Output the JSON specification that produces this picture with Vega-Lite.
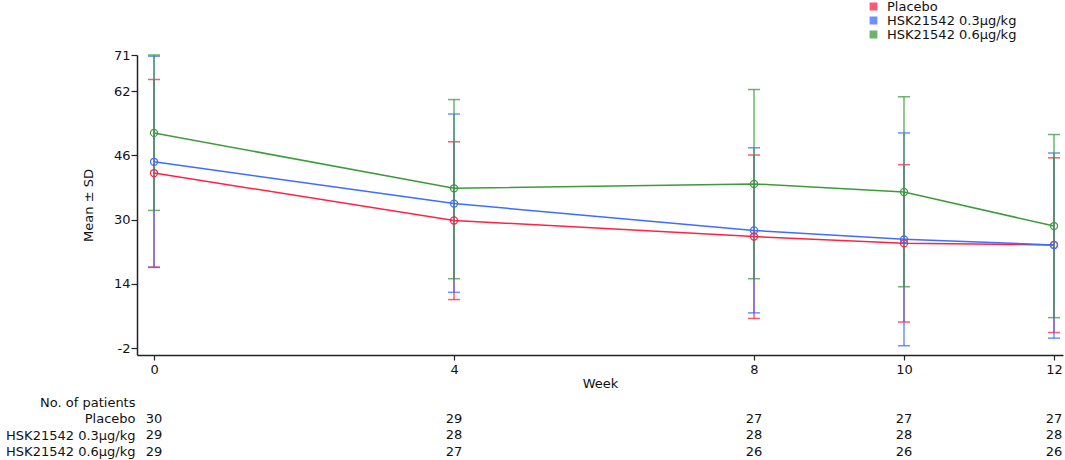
{
  "$schema": "https://vega.github.io/schema/vega-lite/v6.json",
  "padding": {"left": 5, "right": 2, "top": 0, "bottom": 0},
  "config": {
    "view": {"stroke": null},
    "font": "DejaVu Sans",
    "concat": {"spacing": 4},
    "axis": {"labelFont": "DejaVu Sans", "titleFont": "DejaVu Sans", "labelColor": "#111", "titleColor": "#111", "titleFontWeight": "normal"}
  },
  "datasets": {
    "stats": [
      {"week": 0, "group": "Placebo", "mean": 41.6, "lo": 18.2, "hi": 64.9},
      {"week": 4, "group": "Placebo", "mean": 29.8, "lo": 10.1, "hi": 49.4},
      {"week": 8, "group": "Placebo", "mean": 25.8, "lo": 5.4, "hi": 46.1},
      {"week": 10, "group": "Placebo", "mean": 24.1, "lo": 4.5, "hi": 43.7},
      {"week": 12, "group": "Placebo", "mean": 23.7, "lo": 1.9, "hi": 45.4},
      {"week": 0, "group": "HSK21542 0.3µg/kg", "mean": 44.4, "lo": 18.1, "hi": 70.7},
      {"week": 4, "group": "HSK21542 0.3µg/kg", "mean": 34.0, "lo": 11.9, "hi": 56.3},
      {"week": 8, "group": "HSK21542 0.3µg/kg", "mean": 27.3, "lo": 6.8, "hi": 47.9},
      {"week": 10, "group": "HSK21542 0.3µg/kg", "mean": 25.1, "lo": -1.4, "hi": 51.6},
      {"week": 12, "group": "HSK21542 0.3µg/kg", "mean": 23.7, "lo": 0.5, "hi": 46.6},
      {"week": 0, "group": "HSK21542 0.6µg/kg", "mean": 51.6, "lo": 32.3, "hi": 71.0},
      {"week": 4, "group": "HSK21542 0.6µg/kg", "mean": 37.8, "lo": 15.3, "hi": 59.9},
      {"week": 8, "group": "HSK21542 0.6µg/kg", "mean": 38.9, "lo": 15.3, "hi": 62.4},
      {"week": 10, "group": "HSK21542 0.6µg/kg", "mean": 36.9, "lo": 13.3, "hi": 60.6},
      {"week": 12, "group": "HSK21542 0.6µg/kg", "mean": 28.4, "lo": 5.6, "hi": 51.2}
    ],
    "counts": [
      {"week": 0, "group": "Placebo", "n": 30},
      {"week": 4, "group": "Placebo", "n": 29},
      {"week": 8, "group": "Placebo", "n": 27},
      {"week": 10, "group": "Placebo", "n": 27},
      {"week": 12, "group": "Placebo", "n": 27},
      {"week": 0, "group": "HSK21542 0.3µg/kg", "n": 29},
      {"week": 4, "group": "HSK21542 0.3µg/kg", "n": 28},
      {"week": 8, "group": "HSK21542 0.3µg/kg", "n": 28},
      {"week": 10, "group": "HSK21542 0.3µg/kg", "n": 28},
      {"week": 12, "group": "HSK21542 0.3µg/kg", "n": 28},
      {"week": 0, "group": "HSK21542 0.6µg/kg", "n": 29},
      {"week": 4, "group": "HSK21542 0.6µg/kg", "n": 27},
      {"week": 8, "group": "HSK21542 0.6µg/kg", "n": 26},
      {"week": 10, "group": "HSK21542 0.6µg/kg", "n": 26},
      {"week": 12, "group": "HSK21542 0.6µg/kg", "n": 26}
    ]
  },
  "vconcat": [
    {
      "width": 926,
      "height": 300,
      "data": {"name": "stats"},
      "encoding": {
        "x": {
          "field": "week",
          "type": "quantitative",
          "scale": {"domain": [-0.227, 12.12], "nice": false, "zero": false},
          "axis": {
            "values": [0, 4, 8, 10, 12],
            "title": "Week",
            "grid": false,
            "labelFontSize": 13,
            "titleFontSize": 13,
            "labelPadding": 3,
            "titlePadding": 1,
            "tickSize": 5,
            "domainColor": "#222",
            "domainWidth": 1.5,
            "tickColor": "#222",
            "tickWidth": 1.2
          }
        },
        "color": {
          "field": "group",
          "type": "nominal",
          "scale": {
            "domain": ["Placebo", "HSK21542 0.3µg/kg", "HSK21542 0.6µg/kg"],
            "range": ["#ff2244", "#3d6dff", "#3c9c3c"]
          },
          "legend": {
            "orient": "none",
            "legendX": 730,
            "legendY": -55,
            "title": null,
            "symbolType": "square",
            "symbolSize": 40,
            "labelFontSize": 13,
            "labelFont": "DejaVu Sans",
            "labelColor": "#111",
            "labelOffset": 7,
            "rowPadding": 0
          }
        }
      },
      "layer": [
        {
          "mark": {"type": "errorbar", "ticks": {"size": 12}, "thickness": 1.5, "opacity": 0.75},
          "encoding": {
            "y": {
              "field": "lo",
              "type": "quantitative",
              "title": "Mean ± SD",
              "scale": {"domain": [-3.7, 71], "nice": false, "zero": false}
            },
            "y2": {"field": "hi"}
          }
        },
        {
          "mark": {"type": "line", "strokeWidth": 1.5},
          "encoding": {
            "y": {
              "field": "mean",
              "type": "quantitative",
              "title": "Mean ± SD",
              "scale": {"domain": [-3.7, 71], "nice": false, "zero": false},
              "axis": {
                "values": [-2, 14, 30, 46, 62, 71],
                "labelExpr": "replace(datum.label, '−', '-')",
                "grid": false,
                "labelFontSize": 13,
                "titleFontSize": 13,
                "labelPadding": 1,
                "titlePadding": 18,
                "tickSize": 6,
                "domainColor": "#222",
                "domainWidth": 1.5,
                "tickColor": "#222",
                "tickWidth": 1.2
              }
            }
          }
        },
        {
          "mark": {"type": "point", "filled": false, "size": 50, "strokeWidth": 1.3, "opacity": 1},
          "encoding": {
            "y": {"field": "mean", "type": "quantitative", "title": "Mean ± SD"}
          }
        }
      ]
    },
    {
      "width": 926,
      "height": 66,
      "data": {"name": "counts"},
      "mark": {"type": "text", "fontSize": 13, "font": "DejaVu Sans", "color": "#111"},
      "encoding": {
        "x": {
          "field": "week",
          "type": "quantitative",
          "scale": {"domain": [-0.227, 12.12], "nice": false, "zero": false},
          "axis": null
        },
        "y": {
          "field": "group",
          "type": "nominal",
          "scale": {"domain": ["No. of patients", "Placebo", "HSK21542 0.3µg/kg", "HSK21542 0.6µg/kg"]},
          "axis": {
            "title": null,
            "domain": false,
            "ticks": false,
            "labelFontSize": 13,
            "labelPadding": 2
          }
        },
        "text": {"field": "n", "type": "quantitative"}
      }
    }
  ]
}
